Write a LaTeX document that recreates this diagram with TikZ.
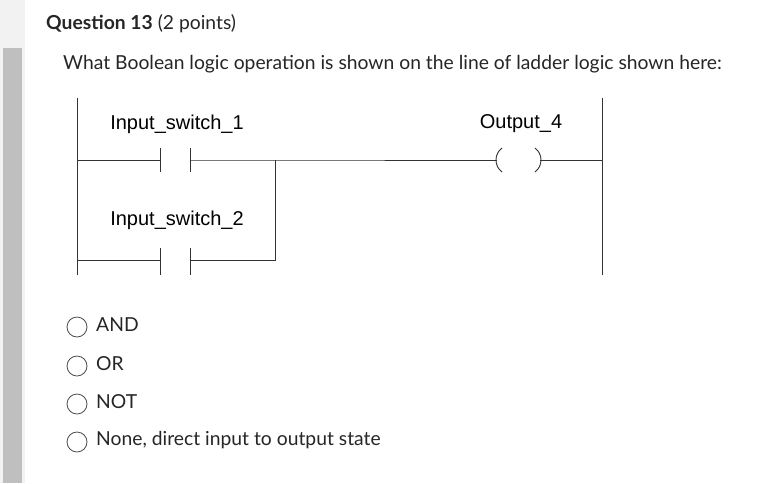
\documentclass[tikz,border=0pt]{standalone}
\usepackage{fontspec}
\usetikzlibrary{calc}
\setmainfont{Lato}
\newfontfamily\arialf{Liberation Sans}
\begin{document}
\begin{tikzpicture}[x=1pt,y=-1pt,
  wire/.style={draw=black!80,line width=0.9pt},
  lbl/.style={font=\arialf\fontsize{20}{24}\selectfont,inner sep=0pt},
  txt/.style={font=\fontsize{19.3}{23}\selectfont,inner sep=0pt,anchor=west,text=black!85},
  radio/.style={circle,draw=black!70,line width=0.8pt,minimum size=20pt,inner sep=0pt}]
\useasboundingbox[fill=white] (0,0) rectangle (765,483);
\fill[black!5] (0,0) rectangle (25,483);
\fill[black!25] (3,48) rectangle (22,483);
\node[txt,anchor=west] (title) at (46,24) {\textbf{Question 13} (2 points)};
\node[txt] (q) at (63,64) {What Boolean logic operation is shown on the line of ladder logic shown here:};
% rails
\coordinate (lt) at (77,98); \coordinate (lb) at (77,275);
\coordinate (rt) at (602,98); \coordinate (rb) at (602,275);
\draw[wire] (lt) -- (lb); \draw[wire] (rt) -- (rb);
% rung 1
\coordinate (r1l) at (77,160); \coordinate (c1a) at (160,160); \coordinate (c1b) at (190,160);
\coordinate (br1) at (275,160); \coordinate (coilL) at (497,160); \coordinate (coilR) at (540,160);
\coordinate (r1r) at (602,160);
\draw[wire] (r1l) -- (c1a); \draw[wire] (c1a)++(0,-12) -- ++(0,24);
\draw[wire] (c1b)++(0,-12) -- ++(0,24);
\draw[wire] (c1b) -- (br1) -- (coilL);
\draw[wire] ($(coilL)+(5,-12)$) .. controls ($(coilL)+(-3,-6)$) and ($(coilL)+(-3,6)$) .. ($(coilL)+(5,12)$);
\draw[wire] ($(coilR)+(-5,-12)$) .. controls ($(coilR)+(3,-6)$) and ($(coilR)+(3,6)$) .. ($(coilR)+(-5,12)$);
\draw[wire] (coilR) -- (r1r);
% rung 2
\coordinate (r2l) at (77,260); \coordinate (c2a) at (160,260); \coordinate (c2b) at (190,260);
\coordinate (br2) at (275,260);
\draw[wire] (r2l) -- (c2a); \draw[wire] (c2a)++(0,-12) -- ++(0,27);
\draw[wire] (c2b)++(0,-12) -- ++(0,27);
\draw[wire] (c2b) -- (br2) -- (br1);
\node[lbl] (l1) at (177,124) {Input\_switch\_1};
\node[lbl] (l2) at (177,220) {Input\_switch\_2};
\node[lbl] (l3) at (521,124) {Output\_4};
% options
\foreach \y/\t [count=\i] in {327/AND,366/OR,404/NOT,442/{None, direct input to output state}}{
  \node[radio] (rb\i) at (77,\y) {};
  \node[txt] (o\i) at (96,\y-2) {\t};
}
\end{tikzpicture}
\end{document}
